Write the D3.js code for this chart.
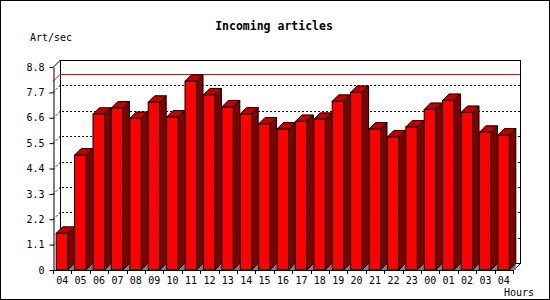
<!DOCTYPE html>
<html>
<head>
<meta charset="utf-8">
<script src="https://cdn.jsdelivr.net/npm/d3@7"></script>
<style>
  body { margin: 0; background: #fff; }
  text { font-family: "DejaVu Sans Mono", monospace; }
</style>
</head>
<body>
<svg id="chart" width="550" height="300"></svg>
<script>
// hours of the day (the last one wraps round to 04 again)
const hours = ["04", "05", "06", "07", "08", "09", "10", "11", "12", "13", "14", "15", "16",
               "17", "18", "19", "20", "21", "22", "23", "00", "01", "02", "03", "04"];
const artPerSec = [1.59, 4.98, 6.75, 7.02, 6.57, 7.27, 6.63, 8.18, 7.59, 7.07, 6.76, 6.33, 6.11,
                   6.44, 6.53, 7.31, 7.70, 6.11, 5.77, 6.20, 6.96, 7.35, 6.83, 5.97, 5.85];
const yTicks = [0, 1.1, 2.2, 3.3, 4.4, 5.5, 6.6, 7.7, 8.8];

const svg = d3.select("#chart");
const W = 550, H = 300;
const plotL = 53, plotR = 513, plotT = 67, plotB = 270;
const depth = 7;      // depth of the back wall
const barDepth = 6.5; // depth of each bar

svg.append("rect")
    .attr("x", 0.5).attr("y", 0.5)
    .attr("width", W - 1).attr("height", H - 1)
    .attr("fill", "#fff").attr("stroke", "#000");

const y = d3.scaleLinear().domain([0, 8.8]).range([plotB, plotT]);
const x = d3.scaleBand().domain(d3.range(hours.length)).range([plotL, plotR]);

// back wall
svg.append("rect")
    .attr("x", plotL + depth + 0.5).attr("y", plotT - depth + 0.5)
    .attr("width", plotR - plotL).attr("height", plotB - plotT)
    .attr("fill", "#fff").attr("stroke", "#000");

// dotted grid on the wall and side
const grid = svg.append("g")
    .attr("stroke", "#000")
    .attr("stroke-dasharray", "2,2");
yTicks.slice(1, -1).forEach(v => {
    const yy = Math.round(y(v)) + 0.5;
    grid.append("path")
        .attr("fill", "none")
        .attr("d", `M${plotL},${yy}L${plotL + depth},${yy - depth}L${plotR + depth},${yy - depth}`);
});

// max line
const maxV = d3.max(artPerSec);
const ym = Math.round(y(maxV)) + 0.5;
svg.append("path")
    .attr("fill", "none").attr("stroke", "#f00")
    .attr("d", `M${plotL},${ym}L${plotL + depth},${ym - depth}L${plotR + depth},${ym - depth}`);

// top edge of left side and floor corner
svg.append("path").attr("fill", "none").attr("stroke", "#000")
    .attr("d", `M${plotL + 0.5},${plotT}L${plotL + depth + 0.5},${plotT - depth}`);
svg.append("path").attr("fill", "none").attr("stroke", "#000")
    .attr("d", `M${plotR},${plotB + 0.5}L${plotR + depth + 0.5},${plotB - depth + 0.5}`);

// bars
const bars = svg.append("g")
    .attr("stroke", "#000")
    .attr("stroke-linejoin", "miter");
artPerSec.forEach((v, i) => {
    const x0 = x(i) + 3.2;
    const x1 = x0 + 11.5;
    const x2 = x1 + barDepth;
    const yt = y(v);
    const y0 = y(0);
    // floor shadow
    bars.append("path")
        .attr("fill", "#808080").attr("stroke", "none")
        .attr("d", `M${x1},${y0}L${x2},${y0 - barDepth}L${x2},${y0}Z`);
    // side
    bars.append("path")
        .attr("fill", "#800000")
        .attr("d", `M${x1},${y0}L${x1},${yt}L${x2},${yt - barDepth}L${x2},${y0 - barDepth}Z`);
    // top
    bars.append("path")
        .attr("fill", "#c00000")
        .attr("d", `M${x0},${yt}L${x0 + barDepth},${yt - barDepth}L${x2},${yt - barDepth}L${x1},${yt}Z`);
    // front
    bars.append("rect")
        .attr("x", x0).attr("y", yt)
        .attr("width", x1 - x0).attr("height", y0 - yt)
        .attr("fill", "#ff0000");
});

// y axis
svg.append("g")
    .attr("transform", `translate(${plotL + 0.5},0)`)
    .call(d3.axisLeft(y).tickValues(yTicks).tickSize(4).tickSizeOuter(0).tickPadding(5)
        .tickFormat(d => d === 0 ? "0" : d3.format(".1f")(d)))
    .call(g => g.selectAll("text").attr("font-size", 10).attr("font-family", "DejaVu Sans Mono").attr("fill", "#000"))
    .call(g => g.selectAll("line,path").attr("stroke", "#000"));

// x axis: line, boundary ticks, labels in band centres
const xa = svg.append("g");
xa.append("line")
    .attr("x1", plotL).attr("x2", plotR)
    .attr("y1", plotB + 0.5).attr("y2", plotB + 0.5)
    .attr("stroke", "#000");
d3.range(hours.length + 1).forEach(i => {
    const xx = Math.round(i < hours.length ? x(i) : plotR) + 0.5;
    xa.append("line")
        .attr("x1", xx).attr("x2", xx)
        .attr("y1", plotB).attr("y2", plotB + 4)
        .attr("stroke", "#000");
});
xa.selectAll("text.hour")
    .data(hours)
    .join("text")
    .attr("class", "hour")
    .attr("x", (d, i) => x(i) + x.bandwidth() / 2)
    .attr("y", 284)
    .attr("text-anchor", "middle")
    .attr("font-size", 10)
    .text(d => d);

// titles
svg.append("text")
    .attr("x", 274).attr("y", 30)
    .attr("text-anchor", "middle")
    .attr("font-size", 11.5).attr("font-weight", "bold")
    .text("Incoming articles");
svg.append("text")
    .attr("x", 30).attr("y", 41)
    .attr("font-size", 10)
    .text("Art/sec");
svg.append("text")
    .attr("x", 534).attr("y", 296)
    .attr("text-anchor", "end")
    .attr("font-size", 10)
    .text("Hours");
</script>
</body>
</html>
